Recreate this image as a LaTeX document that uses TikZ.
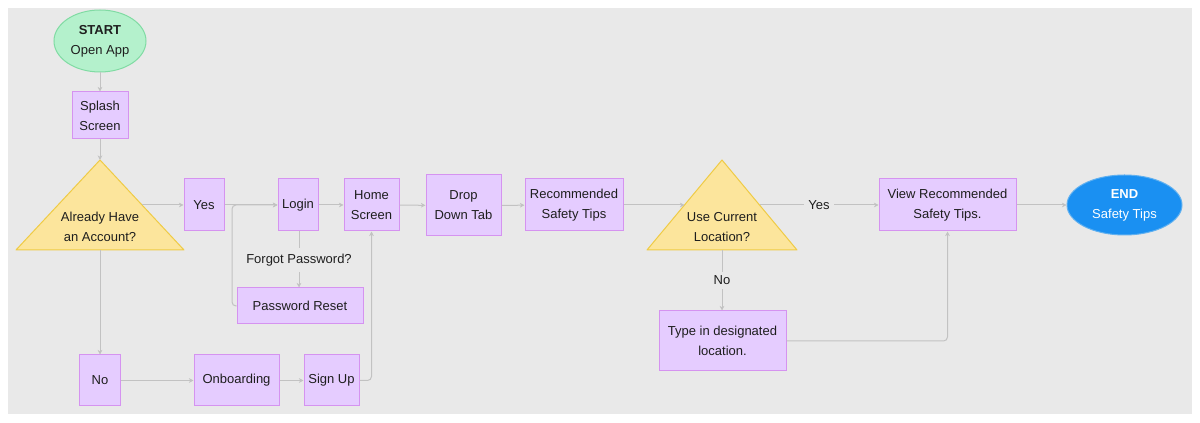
\documentclass[tikz,border=0pt]{standalone}
\usepackage{fontspec}
\setmainfont{Liberation Sans}
\usetikzlibrary{arrows.meta,shapes.geometric}
\definecolor{bgc}{HTML}{E9E9E9}
\definecolor{boxfill}{HTML}{E5CCFF}
\definecolor{boxline}{HTML}{D593F0}
\definecolor{trifill}{HTML}{FCE59C}
\definecolor{triline}{HTML}{EFCB45}
\definecolor{startfill}{HTML}{B4F1CC}
\definecolor{startline}{HTML}{80DBA3}
\definecolor{endfill}{HTML}{1A90F2}
\definecolor{endline}{HTML}{5FB0F0}
\definecolor{conncol}{HTML}{C2C2C2}
\definecolor{txt}{HTML}{1E1E1E}
\begin{document}
\begin{tikzpicture}[x=0.75pt,y=-0.75pt,
  every node/.style={font=\fontsize{9.75}{15}\selectfont, text=txt},
  box/.style={draw=boxline, fill=boxfill, line width=0.75pt, inner sep=0pt, align=center},
  tri/.style={draw=triline, fill=trifill, line width=0.75pt, line join=round},
  term/.style={ellipse, line width=0.75pt, inner sep=0pt, align=center},
  conn/.style={draw=conncol, line width=0.75pt, -{Stealth[length=3.5pt,width=3.5pt]}},
  plain/.style={draw=conncol, line width=0.75pt},
  lab/.style={fill=bgc, inner sep=3pt}]
\useasboundingbox (0,0) rectangle (1200,423);
\fill[white] (0,0) rectangle (1200,423);
\fill[bgc] (8,8) rectangle (1192,414);

% terminals
\node[term, draw=startline, fill=startfill, minimum width=69pt, minimum height=46.5pt] (start) at (100,41) {\textbf{START}\\Open App};
\node[term, draw=endline, fill=endfill, minimum width=86.25pt, minimum height=45pt, text=white] (end) at (1124.5,205) {\textbf{END}\\Safety Tips};

% decision triangles
\draw[tri] (100,160) -- (184,250) -- (16,250) -- cycle;
\node[align=center] (q1) at (100,227) {Already Have\\an Account?};
\coordinate (t1top) at (100,160);
\coordinate (t1r) at (142,205);
\coordinate (t1bot) at (100,250);

\draw[tri] (722,160) -- (797,250) -- (647,250) -- cycle;
\node[align=center] (q2) at (722,227) {Use Current\\Location?};
\coordinate (t2l) at (684.5,205);
\coordinate (t2r) at (759.5,205);
\coordinate (t2bot) at (722,250);

% boxes
\node[box, minimum width=42pt, minimum height=35.25pt] (splash) at (100,115.5) {Splash\\Screen};
\node[box, minimum width=30pt, minimum height=39pt] (yes) at (204,205) {Yes};
\node[box, minimum width=30pt, minimum height=39pt] (login) at (298,205) {Login};
\node[box, minimum width=41.25pt, minimum height=39pt] (home) at (371.5,205) {Home\\Screen};
\node[box, minimum width=56.25pt, minimum height=45.75pt] (drop) at (463.5,205.5) {Drop\\Down Tab};
\node[box, minimum width=73.5pt, minimum height=39pt] (rec) at (574,205) {Recommended\\Safety Tips};
\node[box, minimum width=94.5pt, minimum height=27pt] (pw) at (300,306) {Password Reset};
\node[box, minimum width=30.75pt, minimum height=38.25pt] (no) at (100,380.5) {No};
\node[box, minimum width=63.75pt, minimum height=38.25pt] (onb) at (236.5,380.5) {Onboarding};
\node[box, minimum width=41.25pt, minimum height=38.25pt] (sign) at (331.5,380.5) {Sign Up};
\node[box, minimum width=102.75pt, minimum height=39pt] (view) at (947.5,205) {View Recommended\\Safety Tips.};
\node[box, minimum width=95.25pt, minimum height=45pt] (type) at (722.5,341) {Type in designated\\location.};

% label
\node[inner sep=0pt, minimum height=18pt] (fp) at (299,260) {Forgot Password?};
\coordinate (j1) at (232,205);

% connectors
\draw[conn] (start) -- (splash);
\draw[conn] (splash) -- (t1top);
\draw[conn] (t1r) -- (yes);
\draw[conn] (yes) -- (login);
\draw[conn, rounded corners=3pt] (pw.west) -| (j1) -- (login.west);
\draw[plain] (login.south -| fp.north) -- (fp.north);
\draw[conn] (fp.south) -- (fp.south |- pw.north);
\draw[conn] (login) -- (home);
\draw[conn] (t1bot) -- (t1bot |- no.north);
\draw[conn] (no) -- (onb);
\draw[conn] (onb) -- (sign);
\draw[conn, rounded corners=3pt] (sign.east) -| (home.south);
\draw[conn] (home) -- (drop);
\draw[conn] (drop) -- (rec);
\draw[conn] (rec.east) -- (t2l);
\draw[conn] (t2r) -- node[lab] {Yes} (view.west);
\draw[conn] (t2bot) -- node[lab] {No} (t2bot |- type.north);
\draw[conn, rounded corners=3pt] (type.east) -| (view.south);
\draw[conn] (view) -- (end);
\end{tikzpicture}
\end{document}
